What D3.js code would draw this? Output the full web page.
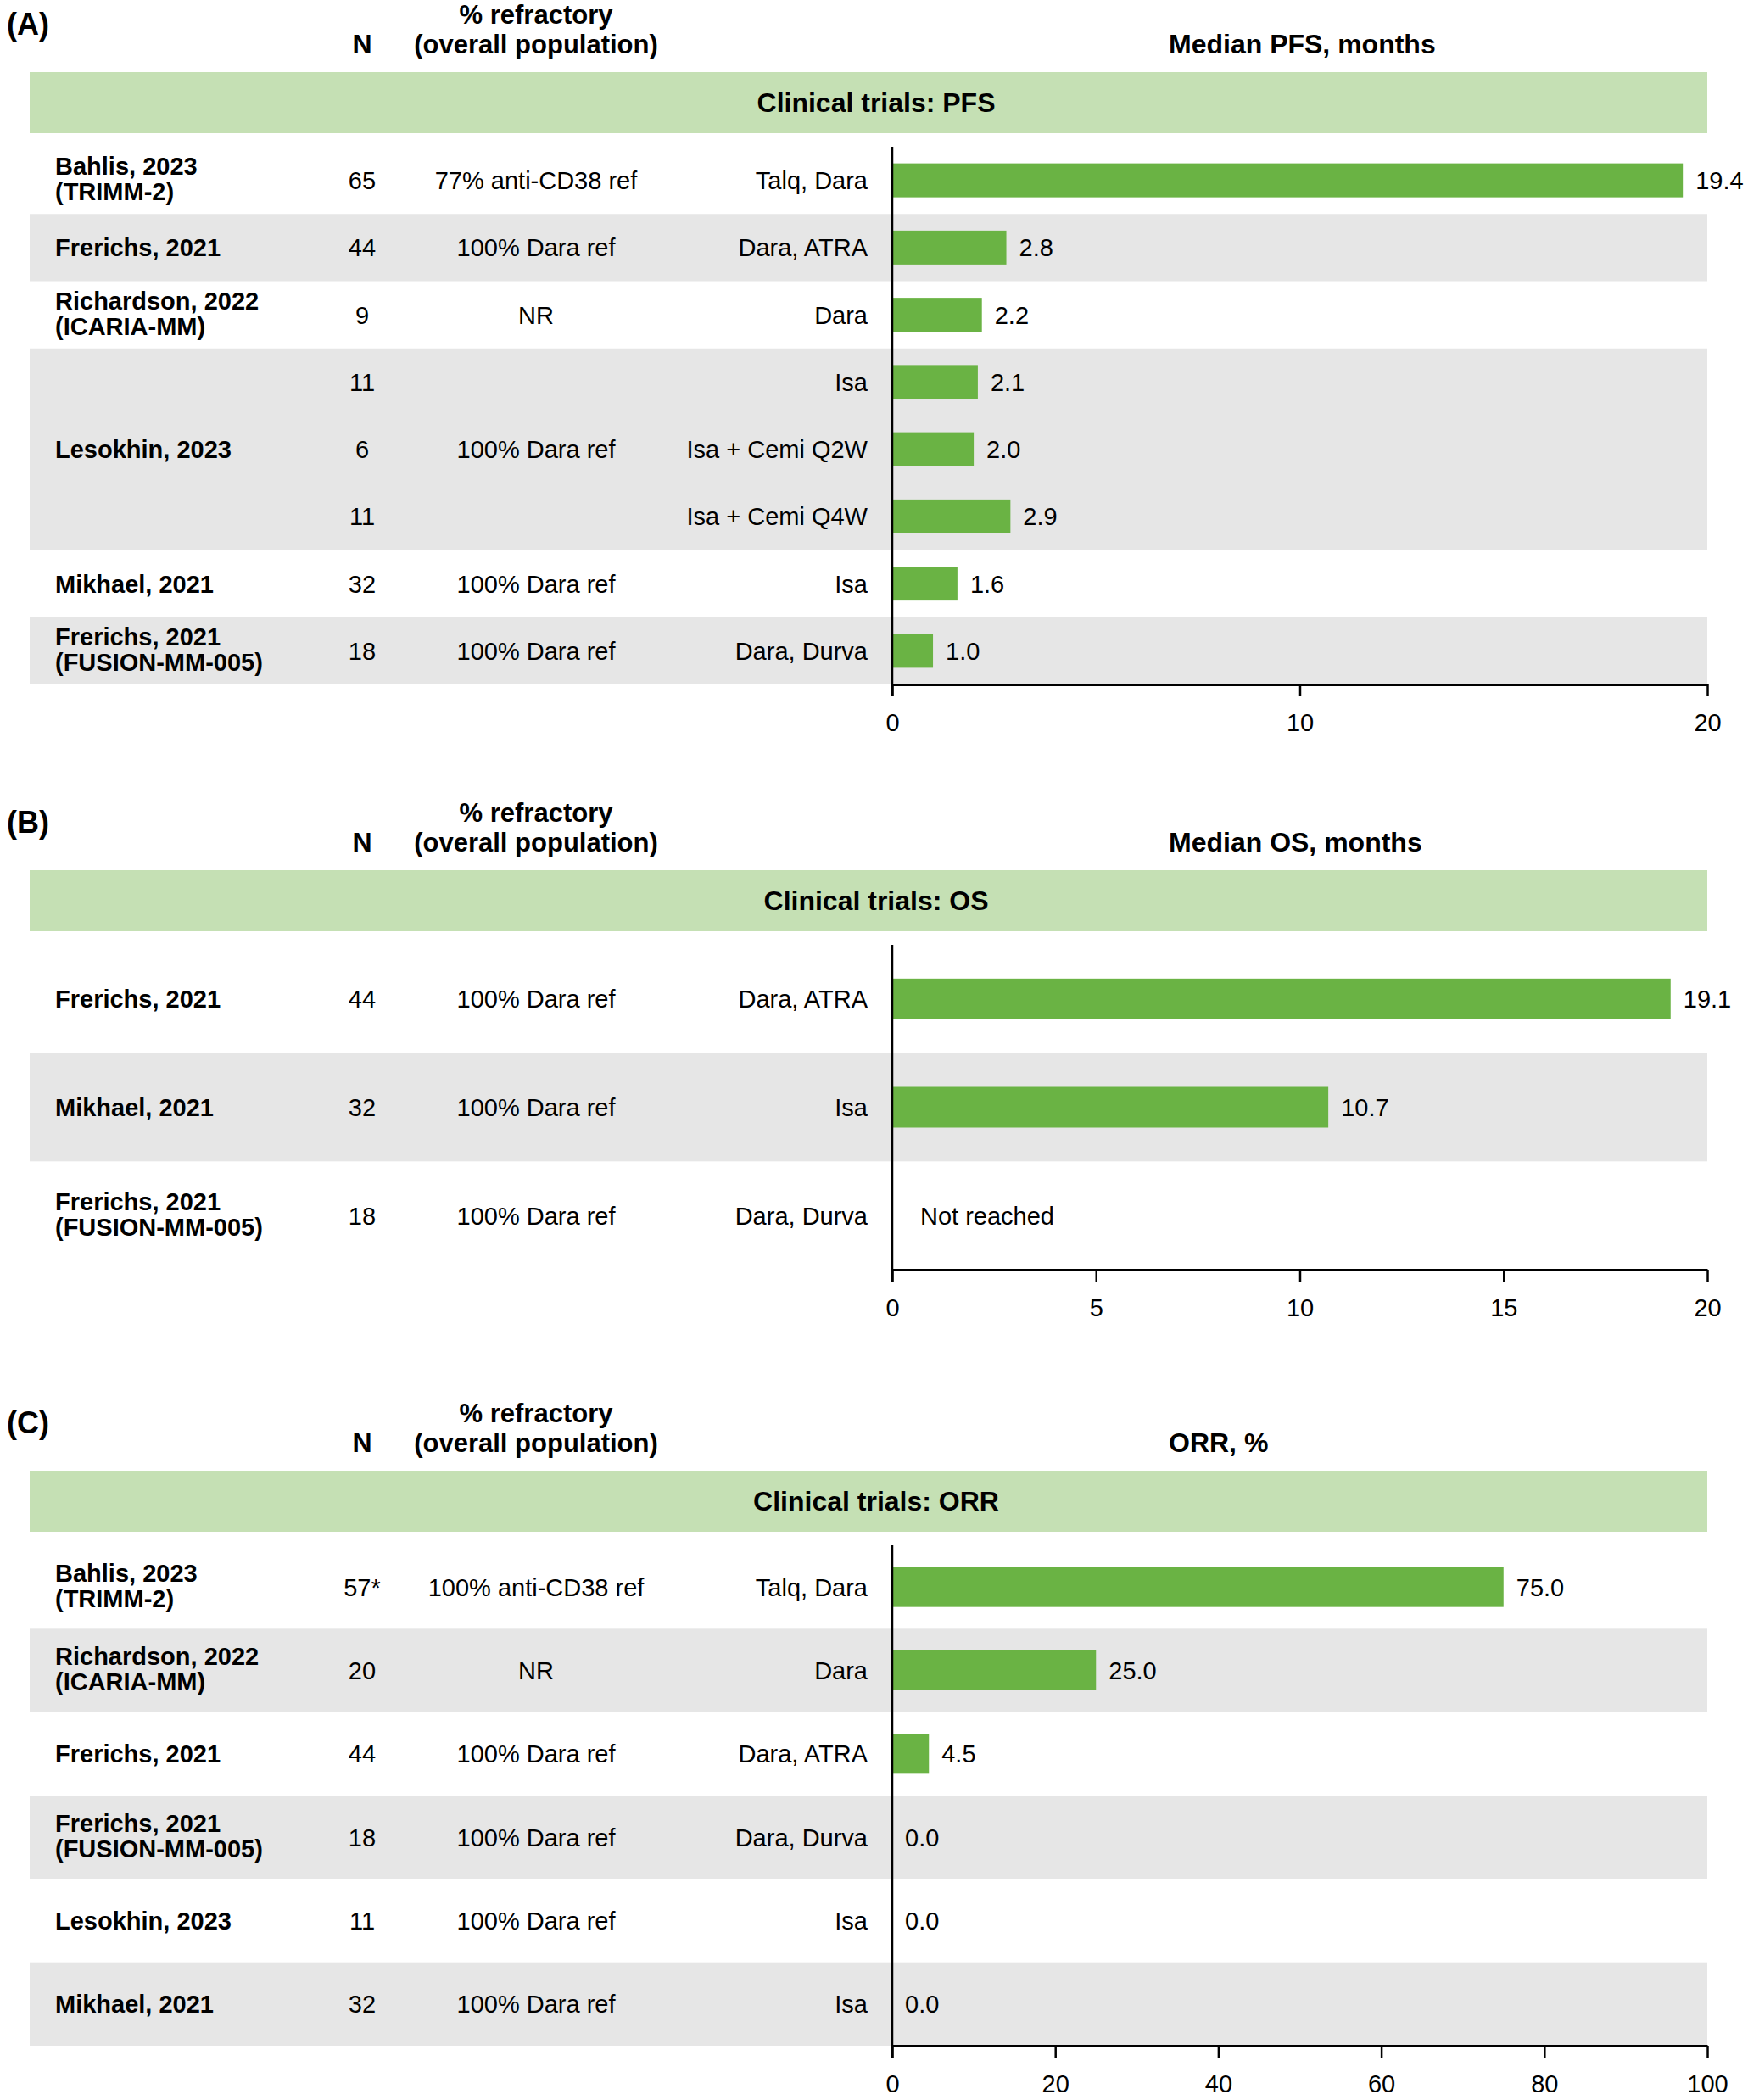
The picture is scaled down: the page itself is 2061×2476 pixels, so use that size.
<!DOCTYPE html>
<html><head><meta charset="utf-8">
<script src="https://cdn.jsdelivr.net/npm/d3@7"></script>
<style>
html,body{margin:0;padding:0;background:#fff;}
svg{display:block;font-family:"Liberation Sans",Arial,Helvetica,sans-serif;}
</style></head><body>
<svg id="chart" width="2061" height="2476"></svg>
<script>
// ---------- Panel A: Median PFS ----------
const pfsGroupStudy = [["Bahlis, 2023","(TRIMM-2)"],["Frerichs, 2021"],["Richardson, 2022","(ICARIA-MM)"],["Lesokhin, 2023"],["Mikhael, 2021"],["Frerichs, 2021","(FUSION-MM-005)"]];
const pfsGroupRefractory = ["77% anti-CD38 ref","100% Dara ref","NR","100% Dara ref","100% Dara ref","100% Dara ref"];
const pfsRowGroup = [0,1,2,3,3,3,4,5];
const pfsN = ["65","44","9","11","6","11","32","18"];
const pfsRegimen = ["Talq, Dara","Dara, ATRA","Dara","Isa","Isa + Cemi Q2W","Isa + Cemi Q4W","Isa","Dara, Durva"];
const pfsMedian = [19.4,2.8,2.2,2.1,2.0,2.9,1.6,1.0];
const pfsTicks = [0,10,20];

// ---------- Panel B: Median OS ----------
const osGroupStudy = [["Frerichs, 2021"],["Mikhael, 2021"],["Frerichs, 2021","(FUSION-MM-005)"]];
const osGroupRefractory = ["100% Dara ref","100% Dara ref","100% Dara ref"];
const osRowGroup = [0,1,2];
const osN = ["44","32","18"];
const osRegimen = ["Dara, ATRA","Isa","Dara, Durva"];
const osMedian = [19.1,10.7,null]; // null = Not reached
const osTicks = [0,5,10,15,20];

// ---------- Panel C: ORR ----------
const orrGroupStudy = [["Bahlis, 2023","(TRIMM-2)"],["Richardson, 2022","(ICARIA-MM)"],["Frerichs, 2021"],["Frerichs, 2021","(FUSION-MM-005)"],["Lesokhin, 2023"],["Mikhael, 2021"]];
const orrGroupRefractory = ["100% anti-CD38 ref","NR","100% Dara ref","100% Dara ref","100% Dara ref","100% Dara ref"];
const orrRowGroup = [0,1,2,3,4,5];
const orrN = ["57*","20","44","18","11","32"];
const orrRegimen = ["Talq, Dara","Dara","Dara, ATRA","Dara, Durva","Isa","Isa"];
const orrValue = [75.0,25.0,4.5,0.0,0.0,0.0];
const orrTicks = [0,20,40,60,80,100];

const colHeaderN = "N";
const colHeaderRef = ["% refractory","(overall population)"];
const notReachedLabel = "Not reached";

// ---------- layout ----------
const L = {
  bandLeft:35, bandRight:2013, bandH:72,
  xStudy:65, xN:427, xRef:632, xReg:1023, xMetric:1378, xTitle:1033,
  axisX0:1052, axisX1:2013,
  bodyFS:29, headFS:32, refHeadFS:31, panelFS:36,
  green:"#6ab344", bandGreen:"#c5e0b4", grey:"#e6e6e6"
};

const panels = [
  {label:"(A)", bandTop:85, axisBottom:807, barH:40, metric:"Median PFS, months", title:"Clinical trials: PFS",
   study:pfsGroupStudy, ref:pfsGroupRefractory, rowGroup:pfsRowGroup, n:pfsN, reg:pfsRegimen, val:pfsMedian, domain:[0,20], ticks:pfsTicks},
  {label:"(B)", bandTop:1026, axisBottom:1497, barH:48, metric:"Median OS, months", title:"Clinical trials: OS",
   study:osGroupStudy, ref:osGroupRefractory, rowGroup:osRowGroup, n:osN, reg:osRegimen, val:osMedian, domain:[0,20], ticks:osTicks},
  {label:"(C)", bandTop:1734, axisBottom:2412, barH:47, metric:"ORR, %", title:"Clinical trials: ORR",
   study:orrGroupStudy, ref:orrGroupRefractory, rowGroup:orrRowGroup, n:orrN, reg:orrRegimen, val:orrValue, domain:[0,100], ticks:orrTicks}
];

const svg = d3.select("#chart");
svg.append("rect").attr("width",2061).attr("height",2476).attr("fill","#fff");

function drawPanel(p){
  const g = svg.append("g");
  const axisTop = p.bandTop + L.bandH + 16;
  const nRows = p.val.length;
  const y = d3.scaleBand().domain(d3.range(nRows)).range([axisTop, p.axisBottom]).padding(0);
  const step = y.bandwidth();
  const x = d3.scaleLinear().domain(p.domain).range([L.axisX0, L.axisX1]);
  const cy = i => y(i) + step/2;
  const capHalf = L.bodyFS*0.36;

  const groups = d3.groups(d3.range(nRows), i => p.rowGroup[i]).map(([gid, idx]) => ({gid, first:d3.min(idx), last:d3.max(idx)}));

  // shaded rows
  g.selectAll("rect.shade").data(groups.filter(d => d.gid % 2 === 1)).join("rect")
    .attr("class","shade")
    .attr("x", L.bandLeft).attr("width", L.bandRight - L.bandLeft)
    .attr("y", d => y(d.first)).attr("height", d => y(d.last) + step - y(d.first))
    .attr("fill", L.grey);

  // green title band
  g.append("rect").attr("x", L.bandLeft).attr("y", p.bandTop).attr("width", L.bandRight - L.bandLeft).attr("height", L.bandH).attr("fill", L.bandGreen);
  g.append("text").attr("x", L.xTitle).attr("y", p.bandTop + 47).attr("text-anchor","middle")
    .attr("font-size", L.headFS).attr("font-weight","bold").text(p.title);

  // panel label and headers
  g.append("text").attr("x", 8).attr("y", p.bandTop - 44).attr("font-size", L.panelFS).attr("font-weight","bold").text(p.label);
  g.append("text").attr("x", L.xRef).attr("y", p.bandTop - 57).attr("text-anchor","middle").attr("font-size", L.refHeadFS).attr("font-weight","bold").text(colHeaderRef[0]);
  g.append("text").attr("x", L.xRef).attr("y", p.bandTop - 22).attr("text-anchor","middle").attr("font-size", L.refHeadFS).attr("font-weight","bold").text(colHeaderRef[1]);
  g.append("text").attr("x", L.xN).attr("y", p.bandTop - 22).attr("text-anchor","middle").attr("font-size", L.headFS).attr("font-weight","bold").text(colHeaderN);
  g.append("text").attr("x", L.xMetric).attr("y", p.bandTop - 22).attr("text-anchor","start").attr("font-size", L.headFS).attr("font-weight","bold").text(p.metric);

  // study labels and refractory (centered in group)
  groups.forEach(gr => {
    const c = (y(gr.first) + y(gr.last) + step)/2;
    const lines = p.study[gr.gid];
    const t = g.append("text").attr("font-size", L.bodyFS).attr("font-weight","bold");
    if (lines.length === 1){
      t.append("tspan").attr("x", L.xStudy).attr("y", c + capHalf).text(lines[0]);
    } else {
      lines.forEach((ln, k) => t.append("tspan").attr("x", L.xStudy).attr("y", c + capHalf - 17 + k*30).text(ln));
    }
    g.append("text").attr("x", L.xRef).attr("y", c + capHalf).attr("text-anchor","middle").attr("font-size", L.bodyFS).text(p.ref[gr.gid]);
  });

  // N and regimen per row
  g.selectAll("text.n").data(p.n).join("text").attr("class","n")
    .attr("x", L.xN).attr("y", (d,i) => cy(i) + capHalf).attr("text-anchor","middle").attr("font-size", L.bodyFS).text(d => d);
  g.selectAll("text.reg").data(p.reg).join("text").attr("class","reg")
    .attr("x", L.xReg).attr("y", (d,i) => cy(i) + capHalf).attr("text-anchor","end").attr("font-size", L.bodyFS).text(d => d);

  // bars
  const rows = p.val.map((v,i) => ({v,i}));
  g.selectAll("rect.bar").data(rows.filter(d => d.v !== null && d.v > 0)).join("rect").attr("class","bar")
    .attr("x", x(0)).attr("width", d => x(d.v) - x(0))
    .attr("y", d => cy(d.i) - p.barH/2).attr("height", p.barH)
    .attr("fill", L.green);

  // value labels
  g.selectAll("text.val").data(rows).join("text").attr("class","val")
    .attr("x", d => d.v === null ? x(0) + 33 : x(d.v) + 15)
    .attr("y", d => cy(d.i) + capHalf)
    .attr("font-size", L.bodyFS)
    .text(d => d.v === null ? notReachedLabel : d3.format(".1f")(d.v));

  // bottom axis
  const ax = g.append("g").attr("transform", `translate(0,${p.axisBottom})`)
    .call(d3.axisBottom(x).tickValues(p.ticks).tickSizeInner(14).tickSizeOuter(0).tickPadding(20).tickFormat(d3.format("d")));
  ax.attr("font-family", null).attr("font-size", null);
  ax.select(".domain").attr("stroke","#000").attr("stroke-width",3);
  ax.selectAll(".tick line").attr("stroke","#000").attr("stroke-width",2.5);
  ax.selectAll(".tick text").attr("fill","#000").attr("font-size", L.bodyFS);

  // vertical axis line
  g.append("line").attr("x1", x(0)).attr("x2", x(0)).attr("y1", axisTop).attr("y2", p.axisBottom + 14)
    .attr("stroke","#000").attr("stroke-width",2.5);
}

panels.forEach(drawPanel);
</script>
</body></html>
